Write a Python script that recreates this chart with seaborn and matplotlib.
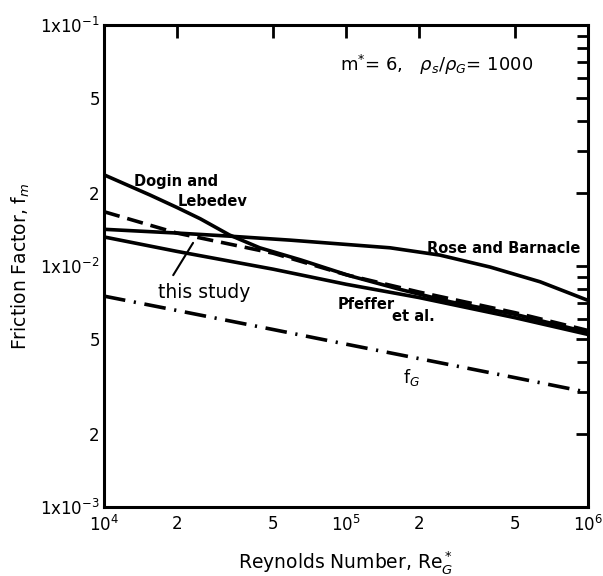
import numpy as np
import pandas as pd
import matplotlib
matplotlib.use("Agg")
import matplotlib.pyplot as plt
import seaborn as sns
from matplotlib.ticker import FixedLocator, FixedFormatter, NullFormatter

# ---- data ----
dogin_re = [1e4, 1.55e4, 2e4, 2.5e4, 3.3e4, 4.4e4, 6.5e4, 1.04e5, 1.67e5, 2.7e5, 5e5, 1e6]
dogin = [0.0239, 0.0197, 0.0175, 0.0157, 0.01345, 0.0119, 0.0106, 0.0091, 0.0080, 0.0071, 0.0063, 0.0053]

rose_re = [1e4, 2e4, 3.3e4, 5.9e4, 1.52e5, 2.44e5, 3.94e5, 6.34e5, 1e6]
rose = [0.0142, 0.0137, 0.0133, 0.0128, 0.0119, 0.0111, 0.0099, 0.0086, 0.0072]

re_vals = [1e4, 2e4, 5e4, 1e5, 2e5, 5e5, 1e6]
this_study = [0.0168, 0.0137, 0.0113, 0.0092, 0.0078, 0.0064, 0.0054]
pfeffer = [0.0132, 0.0115, 0.0097, 0.0084, 0.0074, 0.0061, 0.0052]
f_gas = [0.0075, 0.00654, 0.00545, 0.00474, 0.00413, 0.00344, 0.00299]

x_major = [1e4, 2e4, 5e4, 1e5, 2e5, 5e5, 1e6]
x_labels = ["$10^4$", "2", "5", "$10^5$", "2", "5", "$10^6$"]
y_major = [1e-3, 2e-3, 5e-3, 1e-2, 2e-2, 5e-2, 1e-1]
y_labels = ["1x10$^{-3}$", "2", "5", "1x10$^{-2}$", "2", "5", "1x10$^{-1}$"]

sns.set_style("white")
plt.rcParams['font.family'] = ['DejaVu Sans']
plt.rcParams['mathtext.fontset'] = 'dejavusans'
for k in ("text.color", "axes.labelcolor", "xtick.color", "ytick.color"):
    plt.rcParams[k] = "black"

fig = plt.figure(figsize=(6.03, 5.76), dpi=100)
ax = fig.add_axes([104/603, 69/576, 484/603, 482/576])

series = [
    (dogin_re, dogin, None),
    (rose_re, rose, None),
    (re_vals, this_study, (4.5, 2.2)),
    (re_vals, pfeffer, None),
    (re_vals, f_gas, (6.0, 2.4, 0.6, 2.4)),
]
for xs, vals, dash in series:
    df = pd.DataFrame({"Re": xs, "f": vals})
    sns.lineplot(data=df, x="Re", y="f", ax=ax, color="black",
                 linewidth=2.6, legend=False)
    ln = ax.lines[-1]
    ln.set_solid_joinstyle("round")
    if dash is not None:
        ln.set_dashes(dash)
        ln.set_dash_capstyle("butt")

ax.set_xscale("log")
ax.set_yscale("log")
ax.set_xlim(1e4, 1e6)
ax.set_ylim(1e-3, 1e-1)

for s in ax.spines.values():
    s.set_linewidth(2.2)
    s.set_color("black")

ax.xaxis.set_major_locator(FixedLocator(x_major))
ax.xaxis.set_major_formatter(FixedFormatter(x_labels))
ax.xaxis.set_minor_locator(FixedLocator([]))
ax.yaxis.set_major_locator(FixedLocator(y_major))
ax.yaxis.set_major_formatter(FixedFormatter(y_labels))
y_minor = [m * 10.0**e for e in (-3, -2) for m in (3, 4, 6, 7, 8, 9)]
ax.yaxis.set_minor_locator(FixedLocator(y_minor))
ax.yaxis.set_minor_formatter(NullFormatter())

ax.tick_params(axis="both", which="major", direction="in", length=9, width=2,
               top=True, right=True, labelsize=12, pad=6)
ax.tick_params(axis="both", which="minor", direction="in", length=8, width=2,
               top=True, right=True)
ax.tick_params(axis="y", which="major", pad=3)

ax.set_xlabel("Reynolds Number, Re$_G^*$", fontsize=13.5, labelpad=10)
ax.set_ylabel("Friction Factor, f$_m$", fontsize=13.5, labelpad=6)

tk = dict(transform=ax.transAxes, color="black", fontweight="bold")
ax.text(0.062, 0.676, "Dogin and", fontsize=10.5, va="center", ha="left", **tk)
ax.text(0.153, 0.634, "Lebedev", fontsize=10.5, va="center", ha="left", **tk)
ax.text(0.667, 0.537, "Rose and Barnacle", fontsize=10.5, va="center", ha="left", **tk)
ax.text(0.112, 0.446, "this study", fontsize=13.5, va="center", ha="left",
        transform=ax.transAxes, color="black")
ax.plot([0.143, 0.184], [0.481, 0.548], transform=ax.transAxes, color="black", lw=1.5)
ax.text(0.483, 0.421, "Pfeffer", fontsize=10.5, va="center", ha="left", **tk)
ax.text(0.595, 0.396, "et al.", fontsize=10.5, va="center", ha="left", **tk)
ax.text(0.618, 0.268, "f$_G$", fontsize=12.5, va="center", ha="left",
        transform=ax.transAxes, color="black")
ax.text(0.488, 0.917, "m$^{*}$= 6,   $\\rho_s$/$\\rho_G$= 1000", fontsize=13,
        va="center", ha="left", transform=ax.transAxes, color="black")

fig.savefig("out.png", dpi=100)
